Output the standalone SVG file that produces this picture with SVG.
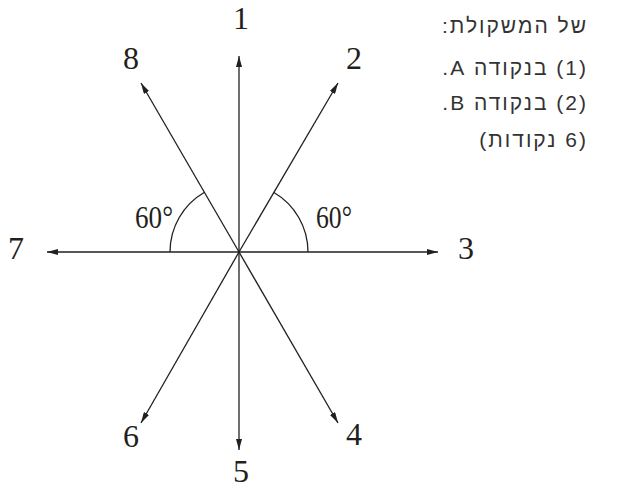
<svg xmlns="http://www.w3.org/2000/svg" width="622" height="488" viewBox="0 0 622 488">
<style>
.ax{stroke:#231f20;stroke-width:1.3;fill:none}
.num{font-family:"Liberation Serif","Times New Roman",serif;font-size:32px;fill:#231f20;text-anchor:middle}
.deg{font-family:"Liberation Serif","Times New Roman",serif;font-size:31px;fill:#231f20}
.heb{font-family:"Liberation Sans","DejaVu Sans",sans-serif;font-size:21px;fill:#333;letter-spacing:2px}
</style>
<defs>
<marker id="ah" markerUnits="userSpaceOnUse" markerWidth="11" markerHeight="6" refX="11" refY="3" orient="auto">
<path d="M0,0 L11,3 L0,6 z" fill="#231f20"/>
</marker>
</defs>
<g id="connectors">
<line class="ax" x1="239" y1="252" x2="239" y2="56" marker-end="url(#ah)"/>
<line class="ax" x1="239" y1="252" x2="338" y2="83" marker-end="url(#ah)"/>
<line class="ax" x1="239" y1="252" x2="438" y2="252" marker-end="url(#ah)"/>
<line class="ax" x1="239" y1="252" x2="338" y2="423" marker-end="url(#ah)"/>
<line class="ax" x1="239" y1="252" x2="239" y2="450" marker-end="url(#ah)"/>
<line class="ax" x1="239" y1="252" x2="141" y2="423" marker-end="url(#ah)"/>
<line class="ax" x1="239" y1="252" x2="47" y2="252" marker-end="url(#ah)"/>
<line class="ax" x1="239" y1="252" x2="141" y2="83" marker-end="url(#ah)"/>
<path class="ax" d="M308,252 A69,69 0 0 0 273.5,192.2"/>
<path class="ax" d="M170,252 A69,69 0 0 1 204.5,192.2"/>
</g>
<g id="n1"><text class="num" x="241" y="29">1</text></g>
<g id="n2"><text class="num" x="354" y="69">2</text></g>
<g id="n3"><text class="num" x="466" y="259">3</text></g>
<g id="n4"><text class="num" x="354" y="445">4</text></g>
<g id="n5"><text class="num" x="241" y="482">5</text></g>
<g id="n6"><text class="num" x="131" y="447">6</text></g>
<g id="n7"><text class="num" x="16" y="259">7</text></g>
<g id="n8"><text class="num" x="131" y="69">8</text></g>
<g id="a1"><text class="deg" x="135" y="228" textLength="38" lengthAdjust="spacingAndGlyphs">60°</text></g>
<g id="a2"><text class="deg" x="316" y="228" textLength="36" lengthAdjust="spacingAndGlyphs">60°</text></g>
<g id="legend">
<text class="heb" x="588" y="33" direction="rtl" text-anchor="start">של המשקולת:</text>
<text class="heb" x="588" y="75" direction="rtl" text-anchor="start">(1) בנקודה A.</text>
<text class="heb" x="588" y="110" direction="rtl" text-anchor="start">(2) בנקודה B.</text>
<text class="heb" x="588" y="147" direction="rtl" text-anchor="start">(6 נקודות)</text>
</g>
</svg>
